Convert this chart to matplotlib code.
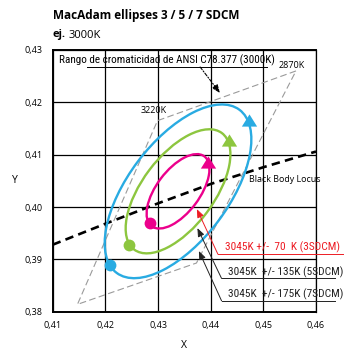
import numpy as np
import matplotlib
matplotlib.use("Agg")
import matplotlib.pyplot as plt
from matplotlib.patches import Ellipse

# ---------------- data ----------------
center = (0.4338, 0.4030)          # 3045K ellipse centre
steps = [3, 5, 7]                    # SDCM steps
step_a = 0.00278                     # semi-major axis per step
step_b = 0.00136                     # semi-minor axis per step
theta = 53.22                        # rotation (deg)
ell_colors = ["#ec008c", "#8dc63f", "#29abe2"]

dot_x = [0.4285, 0.4245, 0.4209]
dot_y = [0.3969, 0.3927, 0.3889]
tri_x = [0.4395, 0.4435, 0.4473]
tri_y = [0.4086, 0.4128, 0.4166]

# ANSI quadrangle (3000K)
quad_x = [0.4562, 0.4299, 0.4147, 0.4373, 0.4562]
quad_y = [0.4260, 0.4165, 0.3814, 0.3893, 0.4260]

# black body locus
bb_x = [0.4100, 0.4200, 0.4300, 0.4400, 0.4500, 0.4600]
bb_y = [0.3928, 0.3968, 0.4007, 0.4044, 0.4076, 0.4106]

xticks = [0.41, 0.42, 0.43, 0.44, 0.45, 0.46]
yticks = [0.38, 0.39, 0.40, 0.41, 0.42, 0.43]
xtick_labels = ["0,41", "0,42", "0,43", "0,44", "0,45", "0,46"]
ytick_labels = ["0,38", "0,39", "0,40", "0,41", "0,42", "0,43"]

labels = ["3045K +/-  70  K (3SDCM)", "3045K  +/- 135K (5SDCM)", "3045K  +/- 175K (7SDCM)"]

# ---------------- figure ----------------
W, H = 344, 350
fig = plt.figure(figsize=(W / 100, H / 100), dpi=100)
ax = fig.add_axes([52.7 / W, 1 - 311.7 / H, (316 - 52.7) / W, (311.7 - 50) / H])
ax.set_xlim(0.41, 0.46)
ax.set_ylim(0.38, 0.43)

font = "Open Sans"
cond = dict(fontfamily=["Roboto Condensed", "DejaVu Sans"])

ax.set_xticks(xticks)
ax.set_yticks(yticks)
ax.set_xticklabels(xtick_labels)
ax.set_yticklabels(ytick_labels)
for t in ax.get_xticklabels() + ax.get_yticklabels():
    t.set_fontfamily(font)
    t.set_fontsize(6.5)
ax.tick_params(length=0, pad=7)
ax.grid(True, color="black", lw=0.9)
ax.set_axisbelow(True)
for s in ax.spines.values():
    s.set_linewidth(1.4)
ax.spines["right"].set_linewidth(0.9)

ax.set_xlabel("X", fontfamily=font, fontsize=7.5, labelpad=7)
ax.set_ylabel("Y", fontfamily=font, fontsize=7.5, rotation=0, labelpad=7, va="center")

# quadrangle
ax.plot(quad_x, quad_y, color="#9a9a9a", lw=0.8, dashes=(6, 3), zorder=2)

# black body locus
ax.plot(bb_x, bb_y, color="black", lw=1.9, dashes=(3.2, 2.0), zorder=3)

# ellipses
for n, c in zip(steps, ell_colors):
    e = Ellipse(center, 2 * n * step_a, 2 * n * step_b, angle=theta,
                fill=False, edgecolor=c, lw=1.7, zorder=4)
    ax.add_patch(e)

tri_marker = [(-1, -0.8), (1, -0.8), (0, 0.8), (-1, -0.8)]
for i, c in enumerate(ell_colors):
    ax.plot(dot_x[i], dot_y[i], "o", color=c, ms=8.5, mec="none", zorder=5)
    ax.plot(tri_x[i], tri_y[i], marker=tri_marker, color=c, ms=11, mec="none", zorder=5)

# text annotations
ax.text(0.4112, 0.42735, "Rango de cromaticidad de ANSI C78.377 (3000K)",
        fontsize=8, va="baseline", ha="left", zorder=6, **cond)
ax.plot([0.41655, 0.45072], [0.42681, 0.42681], color="black", lw=0.7, zorder=6)
ax.annotate("", xy=(0.44178, 0.42178), xytext=(0.4380, 0.42675),
            arrowprops=dict(arrowstyle="-|>,head_length=0.5,head_width=0.2",
                            color="black", lw=0.8, linestyle=(0, (3, 1.5, 1, 1.5)),
                            shrinkA=0, shrinkB=0), zorder=6)
ax.text(0.4553, 0.4271, "2870K", fontfamily=font, fontsize=6.5, ha="center", va="center")
ax.text(0.4291, 0.4185, "3220K", fontfamily=font, fontsize=6.5, ha="center", va="center")
ax.text(0.4473, 0.4053, "Black Body Locus", fontfamily=font, fontsize=6.4, ha="left", va="center")

lab_y = [0.39170, 0.38700, 0.38270]
line_y = [0.39099, 0.38635, 0.38207]
line_x0 = [0.44137, 0.44207, 0.44207]
line_x1 = [0.46509, 0.46357, 0.46357]
head_xy = [(0.43738, 0.39960), (0.43748, 0.39597), (0.43776, 0.39159)]
lab_col = ["#ed1c24", "#222222", "#222222"]
for i in range(3):
    ax.text(line_x0[i] + 0.0013, lab_y[i], labels[i], fontsize=8.2,
            color=lab_col[i], ha="left", va="baseline", clip_on=False, zorder=6, **cond)
    ax.plot([line_x0[i], line_x1[i]], [line_y[i], line_y[i]], color=lab_col[i],
            lw=0.7, clip_on=False, zorder=6)
    ax.annotate("", xy=head_xy[i], xytext=(line_x0[i], line_y[i]),
                arrowprops=dict(arrowstyle="-|>,head_length=0.5,head_width=0.2",
                                color=lab_col[i], lw=0.7, shrinkA=0, shrinkB=0),
                annotation_clip=False, zorder=6)

fig.text(52.7 / W, 1 - 15 / H, "MacAdam ellipses 3 / 5 / 7 SDCM", fontfamily=font,
         fontweight="bold", fontsize=8.5, ha="left", va="center")
fig.text(52.7 / W, 1 - 35 / H, "ej.", fontfamily=font, fontweight="bold",
         fontsize=8, ha="left", va="center")
fig.text(69 / W, 1 - 35 / H, "3000K", fontfamily=font, fontsize=8, ha="left", va="center")

fig.savefig("out.png", dpi=100)
